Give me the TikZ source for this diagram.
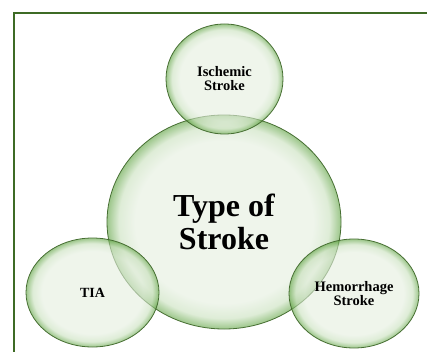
\documentclass[tikz,border=0pt]{standalone}
\usepackage{fontspec}
\setmainfont{Liberation Serif}
\usepackage{xcolor}
\usepackage{tikz}
\usetikzlibrary{shapes.geometric,positioning}
\definecolor{leafin}{RGB}{228, 238, 222}
\definecolor{leafmid}{RGB}{200, 224, 188}
\definecolor{leafout}{RGB}{90, 160, 60}
\definecolor{leafedge}{RGB}{70, 110, 50}
\definecolor{frameg}{RGB}{62, 107, 37}
\pgfdeclareradialshading{bubble}{\pgfpoint{0bp}{0bp}}{color(0bp)=(leafin); color(19bp)=(leafin); color(22.5bp)=(leafmid); color(25bp)=(leafout); color(50bp)=(leafout)}

\begin{document}
\begin{tikzpicture}[x=1pt, y=-1pt]
    % Page area and outer frame
    \clip (0,0) rectangle (427,352);
    \draw[line width=2.2pt, frameg] (14,13) rectangle (460,380);

    \tikzset{
        leaf/.style={ellipse, draw=leafedge, line width=0.8pt, shading=bubble,
            fill opacity=0.6, draw opacity=1, text opacity=1, inner sep=0pt,
            align=center, font=\bfseries\fontsize{14.5}{14}\selectfont},
    }

    % Central circle
    \node[leaf, minimum width=234pt, minimum height=214pt,
          font=\bfseries\fontsize{32}{33}\selectfont] (core) at (224,222) {Type of\\Stroke};

    % Outer ellipses
    \node[leaf, minimum width=117pt, minimum height=110pt] (ischemic) at (224.5,79) {Ischemic\\Stroke};
    \node[leaf, minimum width=133pt, minimum height=109pt, font=\bfseries\fontsize{14}{14}\selectfont] (tia) at (92.5,292.5) {TIA};
    \node[leaf, minimum width=130pt, minimum height=109pt] (hemo) at (354,293.5) {Hemorrhage\\Stroke};
\end{tikzpicture}
\end{document}
